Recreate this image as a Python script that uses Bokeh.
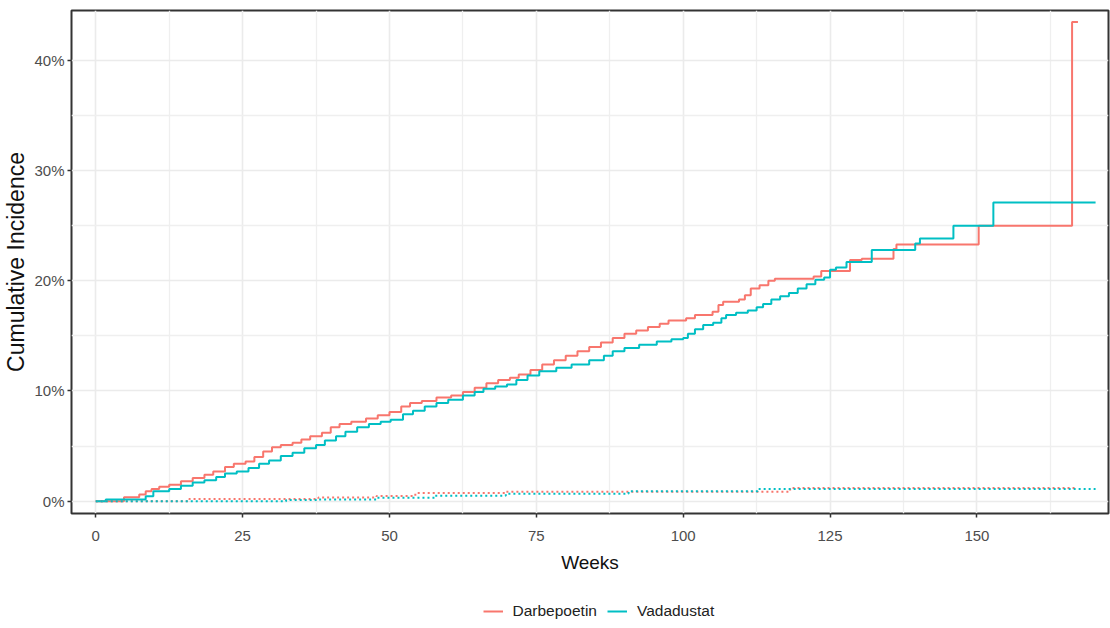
from bokeh.plotting import figure
from bokeh.layouts import column
from bokeh.models import Range1d, NumeralTickFormatter, FixedTicker, Legend, LegendItem
from bokeh.embed import file_html
from bokeh.resources import INLINE

# ---- data ----
groups = ["Darbepoetin", "Vadadustat"]
colors = ["#F8766D", "#00BFC4"]

# main event cumulative incidence (%), step function
darb_weeks = [0, 4.8, 7.4, 8.5, 9.5, 10.8, 12.5, 14.5, 16.5, 18.5, 20.0, 22.0, 23.5, 25.5, 27.0,
              28.5, 30.0, 31.5, 33.5, 35.0, 36.5, 38.5, 40.0, 41.5, 43.5, 46.0, 48.0, 50.0, 52.0,
              53.5, 55.5, 58.0, 60.5, 62.5, 64.5, 66.5, 68.5, 70.5, 72.0, 74.0, 76.0, 78.0, 80.0,
              82.0, 84.0, 86.0, 88.0, 90.0, 92.0, 94.0, 96.0, 97.5, 100.5, 102.0, 105.0, 106.0,
              106.8, 109.5, 110.5, 111.5, 113.0, 114.5, 115.6, 122.2, 123.5, 128.4, 130.4, 135.8,
              136.3, 150.3, 166.2, 167.2]
darb_pct = [0, 0.35, 0.6, 0.9, 1.1, 1.3, 1.5, 1.8, 2.1, 2.4, 2.7, 3.1, 3.4, 3.6, 4.0,
            4.5, 4.9, 5.1, 5.3, 5.6, 5.9, 6.2, 6.7, 7.0, 7.2, 7.5, 7.8, 8.1, 8.6,
            8.9, 9.1, 9.4, 9.6, 9.9, 10.3, 10.7, 11.0, 11.2, 11.5, 11.9, 12.4, 12.8, 13.2,
            13.6, 14.0, 14.4, 14.8, 15.2, 15.5, 15.8, 16.1, 16.4, 16.6, 16.9, 17.2, 17.8,
            18.1, 18.3, 18.7, 19.3, 19.6, 20.0, 20.2, 20.4, 20.9, 21.9, 22.0, 22.9,
            23.3, 25.0, 43.5, 43.5]

vada_weeks = [0, 1.7, 8.5, 9.8, 12.5, 14.5, 16.5, 18.5, 20.5, 22.0, 24.0, 26.0, 27.8, 29.5,
              31.5, 33.5, 35.5, 37.5, 39.0, 40.9, 42.5, 44.5, 46.5, 48.5, 50.2, 52.3, 54.0, 56.0,
              58.0, 60.0, 62.5, 64.5, 66.0, 68.0, 70.0, 71.6, 73.5, 75.5, 78.4, 81.0, 84.0, 86.5,
              88.0, 90.0, 92.5, 95.5, 98.0, 100.0, 100.8, 102.0, 103.4, 105.1, 106.5, 107.3, 109.0,
              111.0, 112.5, 113.6, 115.0, 116.5, 118.0, 119.5, 121.0, 122.5, 124.0, 125.0, 126.0,
              127.8, 132.1, 139.5, 140.3, 146.0, 152.8, 170.2]
vada_pct = [0, 0.15, 0.45, 0.9, 1.1, 1.4, 1.7, 1.9, 2.2, 2.5, 2.7, 3.0, 3.4, 3.7,
            4.1, 4.4, 4.8, 5.1, 5.5, 5.9, 6.3, 6.7, 7.0, 7.2, 7.4, 7.9, 8.2, 8.6,
            8.9, 9.2, 9.6, 9.9, 10.2, 10.4, 10.6, 11.0, 11.4, 11.8, 12.1, 12.4, 12.8, 13.2,
            13.6, 13.9, 14.2, 14.5, 14.7, 14.8, 15.2, 15.6, 16.0, 16.2, 16.6, 16.9, 17.1,
            17.3, 17.6, 17.9, 18.3, 18.6, 18.9, 19.3, 19.7, 20.1, 20.3, 21.0, 21.2,
            21.7, 22.8, 23.4, 23.85, 25.0, 27.1, 27.1]

# competing event cumulative incidence (%), dotted
darb_cr_weeks = [0, 15.9, 37.9, 47.8, 54.4, 69.8, 118.2, 167.0]
darb_cr_pct = [0, 0.2, 0.33, 0.47, 0.73, 0.85, 1.2, 1.2]
vada_cr_weeks = [0, 32.4, 37.9, 47.8, 57.7, 69.8, 90.7, 112.7, 170.2]
vada_cr_pct = [0, 0.1, 0.15, 0.3, 0.5, 0.67, 0.9, 1.1, 1.1]

x_major = [0, 25, 50, 75, 100, 125, 150]
x_minor = [12.5, 37.5, 62.5, 87.5, 112.5, 137.5, 162.5]
y_major = [0, 0.1, 0.2, 0.3, 0.4]
y_minor = [0.05, 0.15, 0.25, 0.35]

FONT = "Liberation Sans"

p = figure(width=1110, height=585, output_backend="svg", toolbar_location=None,
           x_range=Range1d(-4.13, 172.4), y_range=Range1d(-0.0112, 0.4454),
           min_border_left=69, min_border_right=2, min_border_top=10, min_border_bottom=72)
p.background_fill_color = "white"
p.border_fill_color = "white"
p.outline_line_color = "#333333"
p.outline_line_width = 2

for ax, maj, mnr in ((p.xaxis[0], x_major, x_minor), (p.yaxis[0], y_major, y_minor)):
    ax.ticker = FixedTicker(ticks=maj, minor_ticks=mnr)
    ax.axis_line_color = None
    ax.major_tick_line_color = "#333333"
    ax.major_tick_line_width = 1.5
    ax.major_tick_out = 4
    ax.major_tick_in = 0
    ax.minor_tick_line_color = None
    ax.major_label_text_font = FONT
    ax.major_label_text_font_size = "15px"
    ax.major_label_text_color = "#4D4D4D"
    ax.axis_label_text_font = FONT
    ax.axis_label_text_font_style = "normal"
    ax.axis_label_text_color = "#111111"

p.yaxis[0].formatter = NumeralTickFormatter(format="0%")
p.xaxis[0].axis_label = "Weeks"
p.xaxis[0].axis_label_text_font_size = "19px"
p.xaxis[0].major_label_standoff = 13
p.xaxis[0].axis_label_standoff = 8
p.yaxis[0].axis_label = "Cumulative Incidence"
p.yaxis[0].axis_label_text_font_size = "23px"
p.yaxis[0].major_label_standoff = 3
p.yaxis[0].axis_label_standoff = 2

for g in (p.xgrid[0], p.ygrid[0]):
    g.grid_line_color = "#EBEBEB"
    g.grid_line_width = 1.6
    g.minor_grid_line_color = "#EFEFEF"
    g.minor_grid_line_width = 1.3

for wk, pc, col in ((darb_weeks, darb_pct, colors[0]), (vada_weeks, vada_pct, colors[1])):
    p.step(wk, [v / 100 for v in pc], mode="after", line_color=col, line_width=2)
for wk, pc, col in ((darb_cr_weeks, darb_cr_pct, colors[0]), (vada_cr_weeks, vada_cr_pct, colors[1])):
    p.step(wk, [v / 100 for v in pc], mode="after", line_color=col, line_width=2,
           line_dash="2 3")

# legend strip below the plot (separate small figure, legend drawn by Bokeh)
leg_fig = figure(width=1110, height=43, output_backend="svg", toolbar_location=None,
                 x_axis_type=None, y_axis_type=None, x_range=Range1d(0, 1), y_range=Range1d(0, 1),
                 min_border=0)
leg_fig.outline_line_color = None
leg_fig.grid.visible = False
leg_fig.background_fill_color = "white"
leg_fig.border_fill_color = "white"
items = []
for i in range(2):
    # off-screen stand-in renderer so the legend can draw the coloured key line
    r = leg_fig.line(x=[-5, -4], y=[-5, -5], line_color=colors[i], line_width=2)
    items.append(LegendItem(label=groups[i], renderers=[r]))
legend = Legend(items=items, orientation="horizontal", location=(411.5, 7),
                label_text_font=FONT, label_text_font_size="15.5px", label_text_color="#222222",
                glyph_width=20, glyph_height=20, label_standoff=10, spacing=10,
                border_line_color=None, background_fill_alpha=0, margin=0, padding=0)
leg_fig.add_layout(legend, "center")

page = column(p, leg_fig, spacing=0)
open("out.html", "w").write(file_html(page, INLINE))
